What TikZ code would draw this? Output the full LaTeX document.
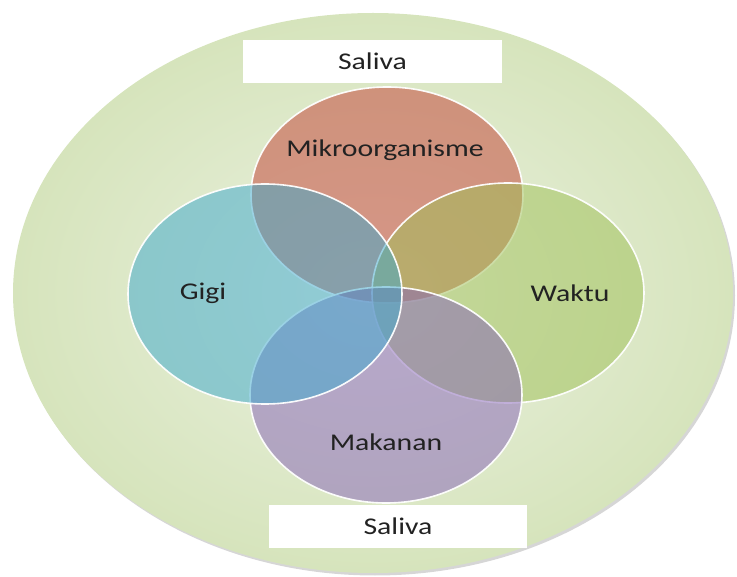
\documentclass[tikz,border=0pt]{standalone}
\usepackage{fontspec}
\setmainfont{Carlito}
\usetikzlibrary{shadings}
\definecolor{bgIn}{RGB}{235,241,225}
\definecolor{bgOut}{RGB}{214,228,188}
\definecolor{cMik}{RGB}{195,62,50}
\definecolor{cGig}{RGB}{58,168,205}
\definecolor{cWak}{RGB}{158,192,85}
\definecolor{cMak}{RGB}{134,98,185}
\definecolor{txt}{RGB}{34,34,34}
\tikzset{
  venn/.style={fill=#1, fill opacity=0.5, draw=white, line width=1.6pt, draw opacity=0.95},
  lbl/.style={font=\fontsize{24}{26}\selectfont, text=txt, inner sep=0pt},
  salbox/.style={fill=white, inner sep=0pt}
}
\newcommand{\wide}[1]{\scalebox{1.24}[1]{#1}}
\begin{document}
\begin{tikzpicture}[x=1pt,y=-1pt]
\useasboundingbox (0,0) rectangle (737,577);
% shadow of background ellipse
\fill[black!40, opacity=0.4] (375,295.5) ellipse [x radius=360, y radius=280];
% background ellipse
\shade[inner color=bgIn, outer color=bgOut] (373,293) ellipse [x radius=360, y radius=280];
% Saliva boxes
\node[salbox, minimum width=259pt, minimum height=43pt] (salTop) at (372.5,61.5) {};
\node[salbox, minimum width=258pt, minimum height=43pt] (salBot) at (398,526.5) {};
% venn circles in clockwise order
\path[venn=cMik] (387,195) ellipse [x radius=136, y radius=108];
\path[venn=cWak] (508,293) ellipse [x radius=136, y radius=110];
\path[venn=cMak] (386,395) ellipse [x radius=136, y radius=108];
\path[venn=cGig] (265,294) ellipse [x radius=137, y radius=110];
% labels
\node[lbl] (mik) at (385,150) {\wide{Mikroorganisme}};
\node[lbl] (gig) at (203,293) {\wide{Gigi}};
\node[lbl] (wak) at (570,293) {\wide{Waktu}};
\node[lbl] (mak) at (386,442) {\wide{Makanan}};
\node[lbl] (s1) at (salTop.center) {\wide{Saliva}};
\node[lbl] (s2) at (salBot.center) {\wide{Saliva}};
\end{tikzpicture}
\end{document}
